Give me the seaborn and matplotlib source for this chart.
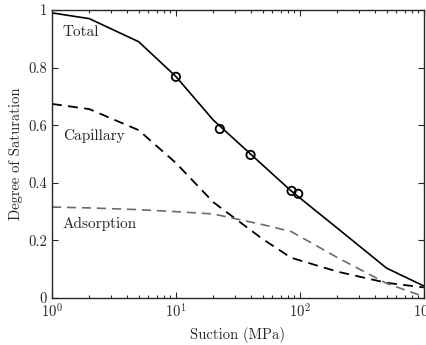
import matplotlib
matplotlib.use("Agg")
import matplotlib.pyplot as plt
import seaborn as sns
import pandas as pd
from matplotlib.ticker import FormatStrFormatter

# Data
suction = [1, 2, 5, 10, 20, 50, 85, 200, 500, 1000]
total = [0.990, 0.970, 0.890, 0.769, 0.618, 0.462, 0.372, 0.243, 0.104, 0.042]
capillary = [0.674, 0.656, 0.583, 0.469, 0.333, 0.205, 0.140, 0.092, 0.053, 0.037]
adsorption = [0.316, 0.313, 0.307, 0.300, 0.292, 0.255, 0.231, 0.141, 0.051, 0.005]

meas_suction = [10, 22.6, 40, 85.7, 96.9]
meas_sat = [0.768, 0.587, 0.497, 0.372, 0.362]

labels = ["Total", "Capillary", "Adsorption"]
label_x = [1.22, 1.22, 1.22]
label_y = [0.924, 0.562, 0.257]

sns.set_style("ticks")
plt.rcParams["font.family"] = ["cmr10", "DejaVu Serif"]
plt.rcParams["mathtext.fontset"] = "cm"
plt.rcParams["axes.formatter.use_mathtext"] = True
plt.rcParams["axes.unicode_minus"] = False

df = pd.DataFrame({"s": suction, "total": total, "cap": capillary, "ads": adsorption})
dm = pd.DataFrame({"s": meas_suction, "sat": meas_sat})

fig = plt.figure(figsize=(4.26, 3.45), dpi=100)
ax = fig.add_axes([0.122, 0.136, 0.873, 0.835])

sns.lineplot(data=df, x="s", y="total", ax=ax, color="black", lw=1.2)
sns.lineplot(data=df, x="s", y="cap", ax=ax, color="black", lw=1.3,
             linestyle=(0, (5.5, 3.5)))
sns.lineplot(data=df, x="s", y="ads", ax=ax, color="#6b6b6b", lw=1.2,
             linestyle=(0, (5.5, 3.5)))
sns.scatterplot(data=dm, x="s", y="sat", ax=ax, s=36, facecolor="none",
                edgecolor="black", linewidth=1.3, marker="o", zorder=5)

ax.set_xscale("log")
ax.set_xlim(1, 1000)
ax.set_ylim(0, 1)
ax.set_yticks([0, 0.2, 0.4, 0.6, 0.8, 1.0])
ax.yaxis.set_major_formatter(FormatStrFormatter("%g"))

for t, x, y in zip(labels, label_x, label_y):
    ax.text(x, y, t, fontsize=11, va="center", ha="left")

ax.set_xlabel("Suction (MPa)", fontsize=10.5)
ax.set_ylabel("Degree of Saturation", fontsize=10.5)
ax.tick_params(which="both", direction="in", top=True, right=True,
               labelsize=10.5, width=0.8)
ax.tick_params(which="major", length=4)
ax.tick_params(which="minor", length=2.5)
ax.tick_params(axis="y", which="minor", left=False, right=False)
for sp in ax.spines.values():
    sp.set_linewidth(1.0)
    sp.set_visible(True)

fig.savefig("out.png", dpi=100)
